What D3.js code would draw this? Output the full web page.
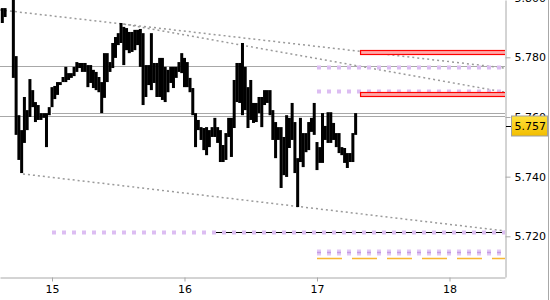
<!DOCTYPE html>
<html>
<head lang="en">
    <meta charset="UTF-8">
    <title>Price bars</title>

    <script src="https://d3js.org/d3.v7.min.js" charset="utf-8"></script>

    <style type="text/css">
        body {
            margin: 0;
            background: #fff;
        }
        svg {
            display: block;
            font-family: "DejaVu Sans", Verdana, sans-serif;
        }
    </style>

</head>
<body>

<svg id="svg" width="550" height="300">
</svg>

<script>
    // 30 minute bars, the first one opens at day 14, 15:00
    var barStart = 14.625;
    var barStep = 1 / 48;

    var highs = [
        5.7965, 5.7965, 5.8059, 5.8076, 5.8009, 5.7804, 5.7606, 5.7556, 5.7667, 5.7623,
        5.7727, 5.7690, 5.7650, 5.7640, 5.7613, 5.7613, 5.7613, 5.7633, 5.7700, 5.7704,
        5.7717, 5.7717, 5.7734, 5.7768, 5.7747, 5.7747, 5.7768, 5.7784, 5.7781, 5.7781,
        5.7781, 5.7774, 5.7774, 5.7758, 5.7751, 5.7734, 5.7717, 5.7814, 5.7814, 5.7784,
        5.7848, 5.7868, 5.7881, 5.7915, 5.7902, 5.7898, 5.7885, 5.7885, 5.7892, 5.7892,
        5.7895, 5.7881, 5.7774, 5.7774, 5.7881, 5.7781, 5.7781, 5.7798, 5.7798, 5.7768,
        5.7758, 5.7768, 5.7768, 5.7768, 5.7784, 5.7814, 5.7798, 5.7784, 5.7731, 5.7697,
        5.7613, 5.7590, 5.7566, 5.7563, 5.7566, 5.7556, 5.7566, 5.7597, 5.7566, 5.7556,
        5.7506, 5.7546, 5.7597, 5.7597, 5.7724, 5.7781, 5.7781, 5.7848, 5.7768, 5.7700,
        5.7724, 5.7647, 5.7647, 5.7667, 5.7667, 5.7690, 5.7690, 5.7690, 5.7623, 5.7583,
        5.7566, 5.7566, 5.7533, 5.7606, 5.7597, 5.7647, 5.7583, 5.7462, 5.7597, 5.7546,
        5.7546, 5.7583, 5.7597, 5.7647, 5.7516, 5.7499, 5.7613, 5.7570, 5.7616, 5.7616,
        5.7580, 5.7546, 5.7546, 5.7499, 5.7496, 5.7479, 5.7479, 5.7546, 5.7613
    ];

    var lows = [
        5.7915, 5.7935, 5.8009, 5.8002, 5.7731, 5.7540, 5.7456, 5.7412, 5.7513, 5.7556,
        5.7600, 5.7633, 5.7583, 5.7590, 5.7590, 5.7597, 5.7499, 5.7606, 5.7633, 5.7660,
        5.7674, 5.7707, 5.7717, 5.7717, 5.7724, 5.7731, 5.7737, 5.7751, 5.7764, 5.7751,
        5.7751, 5.7700, 5.7714, 5.7697, 5.7690, 5.7683, 5.7613, 5.7664, 5.7717, 5.7751,
        5.7764, 5.7798, 5.7841, 5.7848, 5.7774, 5.7824, 5.7814, 5.7818, 5.7824, 5.7841,
        5.7768, 5.7640, 5.7667, 5.7707, 5.7690, 5.7714, 5.7667, 5.7667, 5.7657, 5.7650,
        5.7683, 5.7714, 5.7697, 5.7731, 5.7751, 5.7747, 5.7700, 5.7700, 5.7683, 5.7606,
        5.7499, 5.7556, 5.7523, 5.7489, 5.7472, 5.7499, 5.7533, 5.7533, 5.7513, 5.7449,
        5.7449, 5.7456, 5.7533, 5.7466, 5.7563, 5.7650, 5.7647, 5.7606, 5.7623, 5.7563,
        5.7590, 5.7580, 5.7583, 5.7613, 5.7566, 5.7640, 5.7647, 5.7606, 5.7523, 5.7462,
        5.7523, 5.7362, 5.7405, 5.7399, 5.7496, 5.7523, 5.7412, 5.7298, 5.7449, 5.7432,
        5.7482, 5.7489, 5.7550, 5.7540, 5.7422, 5.7446, 5.7446, 5.7523, 5.7513, 5.7513,
        5.7523, 5.7499, 5.7479, 5.7472, 5.7446, 5.7429, 5.7449, 5.7449, 5.7540
    ];

    var lastClose = 5.757;

    var dayTicks = [15, 16, 17, 18];
    var priceTicks = [5.720, 5.740, 5.760, 5.780, 5.800];

    // horizontal levels: [price, from day]
    var greyLevels = [[5.7770, 14.6], [5.7612, 15.0], [5.7602, 14.6]];
    var purpleLevels = [[5.7767, 17.0], [5.7688, 17.0], [5.7216, 15.0]];
    var blackLevel = [5.7216, 16.215];
    var doubleLevel = [5.7146, 17.0];
    var orangeLevel = [5.7126, 17.0];
    // red zones: [top price, bottom price, from day]
    var redZones = [[5.7824, 5.7810, 17.325], [5.7683, 5.7668, 17.325]];
    // dotted trend lines: [[day, price], [day, price]]
    var trendLines = [
        [[14.6075, 5.7959], [18.419, 5.7764]],
        [[15.536, 5.7912], [18.419, 5.7683]],
        [[14.781, 5.7409], [18.419, 5.7218]]
    ];
</script>

<script>
    var svg = d3.select("svg");

    var plotW = 505;
    var plotH = 277;
    var dayEnd = 18.419;

    var x = d3.scaleLinear().domain([14.6075, dayEnd]).range([0, plotW]);
    var y = d3.scaleLinear().domain([5.70636, 5.79921]).range([plotH, 0]);

    svg.append("defs").append("clipPath").attr("id", "plot")
        .append("rect").attr("width", plotW).attr("height", plotH);

    var defs = svg.select("defs");
    var grad = defs.append("linearGradient").attr("id", "gold")
        .attr("x1", 0).attr("y1", 0).attr("x2", 0).attr("y2", 1);
    grad.append("stop").attr("offset", "0%").attr("stop-color", "#ffe23a");
    grad.append("stop").attr("offset", "100%").attr("stop-color", "#f2bd00");

    var plot = svg.append("g").attr("clip-path", "url(#plot)");

    function level(price, from, color, width, dash) {
        plot.append("line")
            .attr("x1", x(from)).attr("x2", x(dayEnd))
            .attr("y1", Math.round(y(price)) + 0.5).attr("y2", Math.round(y(price)) + 0.5)
            .attr("stroke", color)
            .attr("stroke-width", width)
            .attr("stroke-dasharray", dash || null);
    }

    greyLevels.forEach(function (d) {
        level(d[0], d[1], "#a8a8a8", 1);
    });

    trendLines.forEach(function (t) {
        plot.append("line")
            .attr("x1", x(t[0][0])).attr("y1", y(t[0][1]))
            .attr("x2", x(t[1][0])).attr("y2", y(t[1][1]))
            .attr("stroke", "#9a9a9a")
            .attr("stroke-width", 1.5)
            .attr("stroke-dasharray", "2,3");
    });

    level(blackLevel[0], blackLevel[1], "#000", 1);

    purpleLevels.forEach(function (d) {
        level(d[0], d[1], "#dcbdf2", 4, "4,6");
    });

    level(doubleLevel[0], doubleLevel[1], "#e2c8f5", 6, "4,6");
    level(doubleLevel[0], doubleLevel[1], "#c29ae4", 1.5, "4,6");
    level(orangeLevel[0], orangeLevel[1], "#f7b733", 1.5, "25,10");

    redZones.forEach(function (z) {
        plot.append("rect")
            .attr("x", x(z[2]) + 0.5)
            .attr("y", Math.round(y(z[0])) + 0.5)
            .attr("width", x(dayEnd) - x(z[2]) + 5)
            .attr("height", Math.max(3, Math.round(y(z[1]) - y(z[0]))))
            .attr("fill", "#ffaaaa")
            .attr("stroke", "#ff0000")
            .attr("stroke-width", 1.2);
    });

    // bars
    plot.selectAll("rect.bar")
        .data(highs)
        .enter()
        .append("rect")
        .attr("class", "bar")
        .attr("x", function (d, i) { return x(barStart + i * barStep) - 1.5; })
        .attr("y", function (d) { return y(d); })
        .attr("width", 3)
        .attr("height", function (d, i) { return Math.max(1, y(lows[i]) - y(d)); })
        .attr("fill", "#000");

    // axes
    var yAxis = d3.axisRight(y)
        .tickValues(priceTicks)
        .tickFormat(d3.format(".3f"))
        .tickSize(5)
        .tickSizeOuter(0)
        .tickPadding(4);

    var gy = svg.append("g")
        .attr("transform", "translate(" + (plotW + 0.5) + ",0)")
        .call(yAxis);

    var xAxis = d3.axisBottom(x)
        .tickValues(dayTicks)
        .tickFormat(d3.format("d"))
        .tickSize(4)
        .tickSizeOuter(0)
        .tickPadding(4);

    var gx = svg.append("g")
        .attr("transform", "translate(0," + (plotH + 0.5) + ")")
        .call(xAxis);

    [gx, gy].forEach(function (g) {
        g.select(".domain").attr("stroke", "#a8a8a8");
        g.selectAll(".tick line").attr("stroke", "#a8a8a8");
        g.selectAll(".tick text")
            .attr("fill", "#000")
            .style("font-size", "11px")
            .style("font-family", "'DejaVu Sans', Verdana, sans-serif");
    });

    svg.append("line")
        .attr("x1", 548.5).attr("x2", 548.5)
        .attr("y1", 0).attr("y2", 300)
        .attr("stroke", "#a8a8a8");

    // last price marker
    var yc = Math.round(y(lastClose)) + 0.5;
    svg.append("line")
        .attr("x1", plotW + 1).attr("x2", plotW + 6)
        .attr("y1", yc).attr("y2", yc)
        .attr("stroke", "#000");

    svg.append("rect")
        .attr("x", 511.5).attr("y", yc - 10.5)
        .attr("width", 36).attr("height", 20)
        .attr("fill", "url(#gold)")
        .attr("stroke", "#a0a0a0");

    svg.append("text")
        .attr("x", 514.5).attr("y", yc)
        .attr("dy", "0.35em")
        .style("font-size", "11px")
        .attr("fill", "#000")
        .text(d3.format(".3f")(lastClose));
</script>

</body>
</html>
